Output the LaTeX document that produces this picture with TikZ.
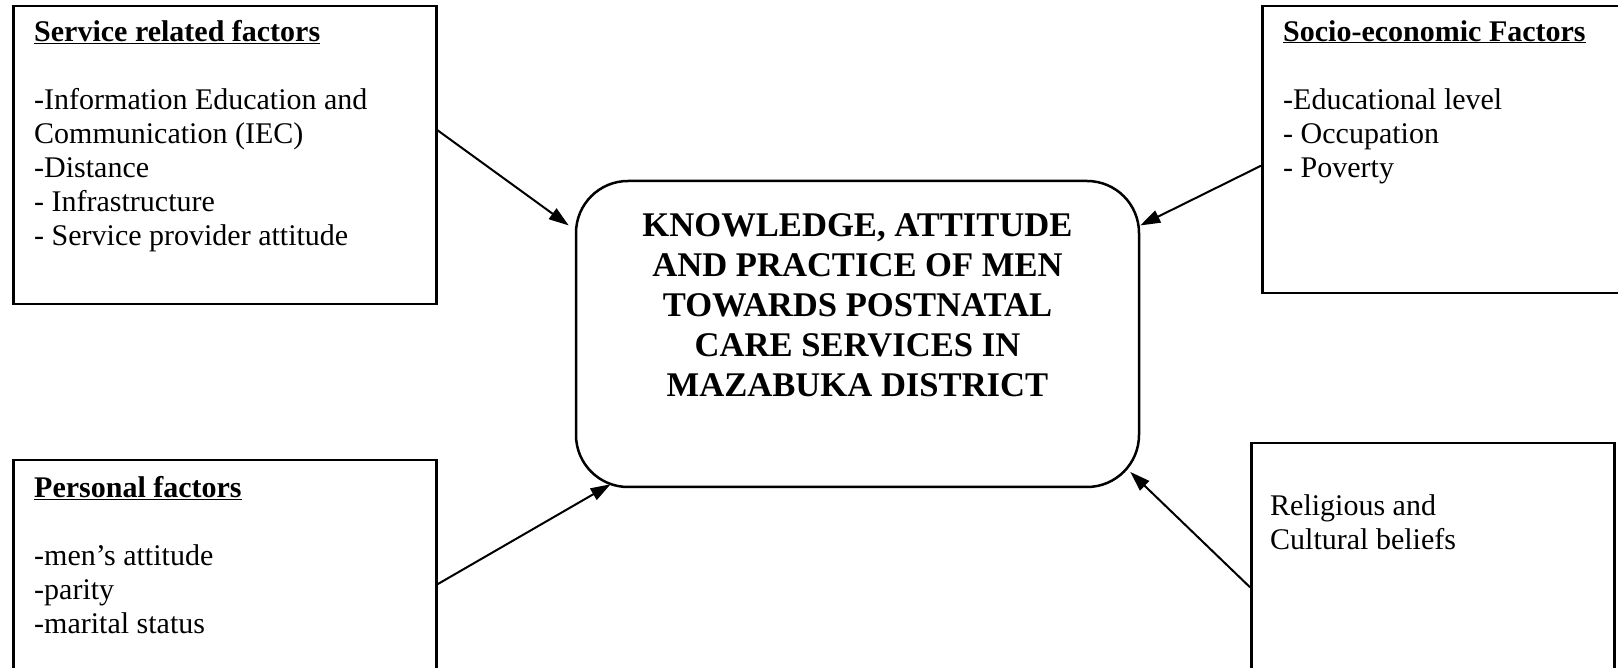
\documentclass[tikz,border=0pt]{standalone}
\usepackage{fontspec}
\setmainfont{Liberation Serif}
\usetikzlibrary{positioning}
\usetikzlibrary{arrows.meta}

\begin{document}
\begin{tikzpicture}[x=1pt, y=1pt,
                    factor box/.style={draw, line width=2.5pt, anchor=north west, inner sep=0pt},
                    factor text/.style={align=left, inner sep=0pt, font=\fontsize{30}{34}\selectfont},
                    main node/.style={draw, line width=2.5pt, rounded corners=52pt,
                                      minimum width=563pt, minimum height=306pt},
                    every edge/.style={draw, line width=2pt, -{Triangle[length=20pt,width=13pt]}}]

  \useasboundingbox (0,0) rectangle (1618,668);

  \node[main node] (0) at (857.5,334) {};
  \node[align=center, font=\fontsize{34.6}{40}\selectfont\bfseries] (0t) at (857.5,362.5)
    {KNOWLEDGE, ATTITUDE\\AND PRACTICE OF MEN\\TOWARDS POSTNATAL\\CARE SERVICES IN\\MAZABUKA DISTRICT};

  \node[factor box, minimum width=423pt, minimum height=298pt] (1) at (12,663) {};
  \node[factor text] (1t) [below right=15pt and 22pt of 1.north west]
    {\underline{\textbf{Service related factors}}\\[34pt]-Information Education and\\Communication (IEC)\\-Distance\\- Infrastructure\\- Service provider attitude};

  \node[factor box, minimum width=370pt, minimum height=287pt] (2) at (1261,663) {};
  \node[factor text] (2t) [below right=15pt and 22pt of 2.north west]
    {\underline{\textbf{Socio-economic Factors}}\\[34pt]-Educational level\\- Occupation\\- Poverty};

  \node[factor box, minimum width=423pt, minimum height=220pt] (3) at (12,209) {};
  \node[factor text] (3t) [below right=17pt and 22pt of 3.north west]
    {\underline{\textbf{Personal factors}}\\[34pt]-men's attitude\\-parity\\-marital status};

  \node[factor box, minimum width=363pt, minimum height=232pt] (4) at (1250,226) {};
  \node[factor text] (4t) [below right=52pt and 20pt of 4.north west]
    {Religious and\\Cultural beliefs};

  \path ([yshift=25pt]1.east) edge ([xshift=-6pt]0.159);
  \path ([yshift=-16pt]2.west) edge (0.21);
  \path ([yshift=-14pt]3.east) edge ([yshift=4pt]0.212);
  \path ([yshift=-28pt]4.west) edge ([xshift=-10pt]0.334);

\end{tikzpicture}
\end{document}
